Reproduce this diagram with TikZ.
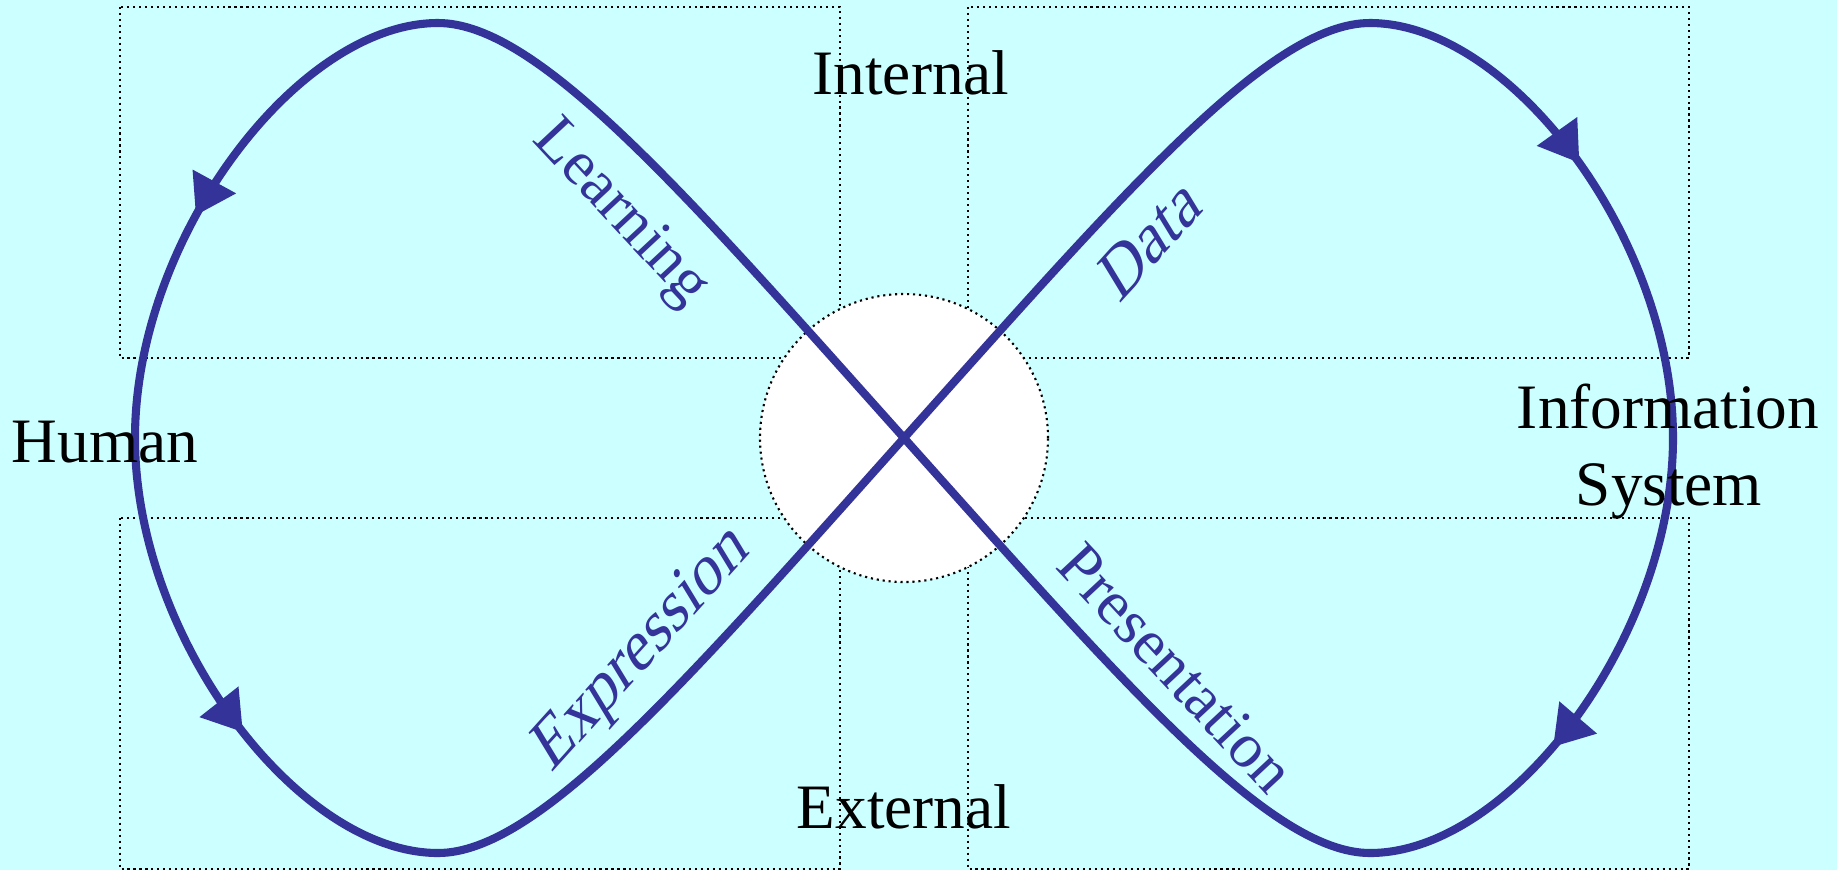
\documentclass[tikz,border=0pt]{standalone}
\usepackage{fontspec}
\setmainfont{Liberation Serif}
\usetikzlibrary{arrows.meta,decorations.markings}
\definecolor{loopblue}{HTML}{333399}
\definecolor{paper}{HTML}{CCFFFF}

\begin{document}
\begin{tikzpicture}[
        x=0.1mm, y=-0.1mm,
        >={Triangle[length=11pt,width=13.5pt]},
        zone/.style={
            draw,
            line width=0.6pt,
            dash pattern=on 0.6pt off 1.1pt
        },
        side/.style={
            font=\fontsize{18}{21}\selectfont,
            anchor=base
        },
        phase/.style={
            text=loopblue,
            font=\fontsize{18}{21}\selectfont
        },
        leaning/.style={
            phase,
            rotate=48,
            xslant=0.3,
            font=\fontsize{19}{22}\selectfont
        },
        loop/.style={
            draw,
            color=loopblue,
            line width=2.3pt,
            line join=round
        }
    ]
    \fill[paper] (0,0) rectangle (1837,870);
    \useasboundingbox (0,0) rectangle (1837,870);

    % four quadrants
    \draw[zone] (120,7) rectangle (840,358);
    \draw[zone] (968,7) rectangle (1689,358);
    \draw[zone] (120,518) rectangle (840,869);
    \draw[zone] (968,518) rectangle (1689,869);

    \node[circle, zone, fill=white, minimum size=28.8mm, inner sep=0pt] (hub) at (904,438) {};

    % turning points of the two lobes
    \coordinate (ltop) at (438,23);
    \coordinate (lside) at (135,438);
    \coordinate (lbot) at (438,853);
    \coordinate (rtop) at (1370,23);
    \coordinate (rside) at (1673,438);
    \coordinate (rbot) at (1370,853);

    % figure eight
    \draw[loop, postaction={decorate},
        decoration={markings,
            mark=at position 0.201 with {\arrow{>}},
            mark=at position 0.317 with {\arrow{>}},
            mark=at position 0.688 with {\arrow{>}},
            mark=at position 0.821 with {\arrow{>}}}]
        (hub.center) .. controls (684,192) and (538,23) .. (ltop)
        .. controls (298,23) and (135,238) .. (lside)
        .. controls (135,638) and (298,853) .. (lbot)
        .. controls (538,853) and (684,684) .. (hub.center)
        .. controls (1124,192) and (1270,23) .. (rtop)
        .. controls (1510,23) and (1673,238) .. (rside)
        .. controls (1673,638) and (1510,853) .. (rbot)
        .. controls (1270,853) and (1124,684) .. (hub.center);

    % labels
    \node[side] (internal) at (911,94) {Internal};
    \node[side] (external) at (904,828) {External};
    \node[side] (human) at (105,462) {Human};
    \node[side] (info) at (1668,428) {Information};
    \node[side] (system) at (1669,505) {System};

    \node[phase, rotate=-47] (learning) at (620,214) {Learning};
    \node[leaning] (data) at (1150,238) {Data};
    \node[leaning] (expression) at (643,650) {Expression};
    \node[phase, rotate=-47] (presentation) at (1176,668) {Presentation};
\end{tikzpicture}
\end{document}
